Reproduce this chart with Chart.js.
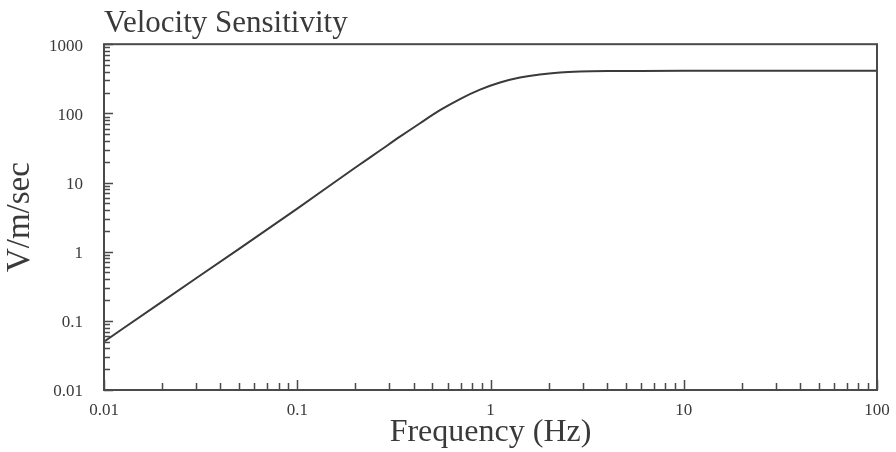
<!DOCTYPE html>
<html>
<head>
<meta charset="utf-8">
<script src="https://cdn.jsdelivr.net/npm/chart.js@4.4.1/dist/chart.umd.min.js"></script>
<style>
  body { margin: 0; background: #fff; }
  #wrap { width: 896px; height: 452px; }
</style>
</head>
<body>
<div id="wrap"><canvas id="grafica"></canvas></div>
<script>
// valores
const frecuencias = [0.01, 0.02, 0.05, 0.1, 0.2, 0.268, 0.34, 0.432, 0.548, 0.695, 0.883, 1.12, 1.42, 1.8, 2.29, 2.9, 4.15, 5.94, 10, 30, 100];
const sensibilidad = [0.05, 0.19, 1.1, 4.2, 16.5, 29, 46, 72, 111, 161, 220, 279, 329, 366, 390, 402, 409, 411, 412, 412, 412];

const xDecadas = [0.01, 0.1, 1, 10, 100];
const xEtiquetas = ['0.01', '0.1', '1', '10', '100'];
const yDecadas = [0.01, 0.1, 1, 10, 100, 1000];
const yEtiquetas = ['0.01', '0.1', '1', '10', '100', '1000'];

const tinta = '#3a3a3a';
const fuente = 'Liberation Serif';

function marcas(decadas) {
  const out = [];
  decadas.forEach((d, i) => {
    out.push({ value: d });
    if (i < decadas.length - 1) {
      for (let m = 2; m <= 9; m++) out.push({ value: +(d * m).toPrecision(6) });
    }
  });
  return out;
}

function etiqueta(decadas, etiquetas, v) {
  const i = decadas.findIndex(d => Math.abs(d - v) / d < 1e-6);
  return i >= 0 ? etiquetas[i] : '';
}

function esDecada(decadas, v) {
  return decadas.some(d => Math.abs(d - v) / d < 1e-6);
}

// marco y marcas hacia adentro
const marco = {
  id: 'marco',
  afterDatasetsDraw(chart) {
    const { ctx, chartArea: a, scales: { x, y } } = chart;
    ctx.save();
    ctx.strokeStyle = '#4a4a4a';
    ctx.lineWidth = 1.5;
    ctx.beginPath();
    x.ticks.forEach(t => {
      const px = Math.round(x.getPixelForValue(t.value)) + 0.5;
      const len = esDecada(xDecadas, t.value) ? 10 : 7;
      ctx.moveTo(px, a.bottom);
      ctx.lineTo(px, a.bottom - len);
    });
    y.ticks.forEach(t => {
      const py = Math.round(y.getPixelForValue(t.value)) + 0.5;
      const len = esDecada(yDecadas, t.value) ? 9 : 6;
      ctx.moveTo(a.left, py);
      ctx.lineTo(a.left + len, py);
    });
    ctx.stroke();
    ctx.lineWidth = 2;
    ctx.strokeRect(a.left, a.top, a.right - a.left, a.bottom - a.top);
    ctx.restore();
  }
};

const ctx = document.getElementById('grafica').getContext('2d');
new Chart(ctx, {
  type: 'line',
  data: {
    datasets: [{
      data: frecuencias.map((f, i) => ({ x: f, y: sensibilidad[i] })),
      borderColor: tinta,
      borderWidth: 2,
      pointRadius: 0,
      cubicInterpolationMode: 'monotone',
      fill: false
    }]
  },
  options: {
    responsive: true,
    maintainAspectRatio: false,
    animation: false,
    layout: { padding: { left: 0, right: 19, top: 0, bottom: 0 } },
    plugins: {
      legend: { display: false },
      tooltip: { enabled: false },
      title: {
        display: true,
        text: 'Velocity Sensitivity',
        align: 'start',
        fullSize: false,
        color: tinta,
        font: { family: fuente, size: 31, weight: 'normal' },
        padding: { top: 5, bottom: 2 }
      }
    },
    scales: {
      x: {
        type: 'logarithmic',
        min: 0.01,
        max: 100,
        afterBuildTicks: s => { s.ticks = marcas(xDecadas); },
        afterFit: s => { s.height = 62; s.paddingLeft = 0; s.paddingRight = 0; },
        grid: { display: false, drawTicks: false },
        border: { display: false },
        ticks: {
          autoSkip: false,
          maxRotation: 0,
          padding: 10,
          color: tinta,
          font: { family: fuente, size: 17 },
          callback: v => etiqueta(xDecadas, xEtiquetas, v)
        },
        title: {
          display: true,
          text: 'Frequency (Hz)',
          color: tinta,
          font: { family: fuente, size: 32 },
          padding: { top: 0, bottom: 0 }
        }
      },
      y: {
        type: 'logarithmic',
        min: 0.01,
        max: 1000,
        afterBuildTicks: s => { s.ticks = marcas(yDecadas); },
        afterFit: s => { s.width = 104; s.paddingTop = 0; s.paddingBottom = 0; },
        grid: { display: false, drawTicks: false },
        border: { display: false },
        ticks: {
          autoSkip: false,
          padding: 21,
          labelOffset: 2,
          color: tinta,
          font: { family: fuente, size: 17 },
          callback: v => etiqueta(yDecadas, yEtiquetas, v)
        },
        title: {
          display: true,
          text: 'V/m/sec',
          color: tinta,
          font: { family: fuente, size: 33 },
          padding: { top: 1, bottom: 0 }
        }
      }
    }
  },
  plugins: [marco]
});
</script>
</body>
</html>
